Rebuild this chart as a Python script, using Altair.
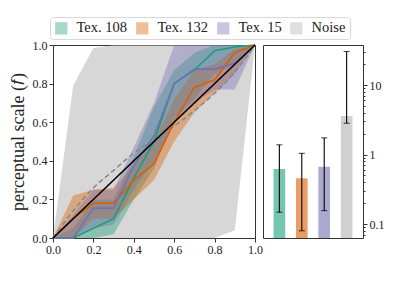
import altair as alt
import pandas as pd

# ---------------- data ----------------
xs = [0.0, 0.1, 0.2, 0.3, 0.4, 0.5, 0.6, 0.7, 0.8, 0.9, 1.0]

tex108_mean = [0.0, 0.0, 0.05, 0.10, 0.31, 0.50, 0.80, 0.87, 0.97, 0.99, 1.0]
tex108_lo = [0.0, 0.0, 0.0, 0.02, 0.20, 0.36, 0.62, 0.72, 0.85, 0.90, 1.0]
tex108_hi = [0.0, 0.05, 0.20, 0.20, 0.42, 0.68, 0.87, 0.96, 1.0, 1.0, 1.0]

tex132_mean = [0.0, 0.10, 0.18, 0.18, 0.30, 0.385, 0.60, 0.78, 0.82, 0.96, 1.0]
tex132_lo = [0.0, 0.0, 0.10, 0.10, 0.20, 0.30, 0.50, 0.65, 0.75, 0.85, 1.0]
tex132_hi = [0.0, 0.22, 0.25, 0.26, 0.38, 0.50, 0.72, 0.87, 0.90, 0.98, 1.0]

tex15_mean = [0.0, 0.0, 0.155, 0.155, 0.375, 0.53, 0.80, 0.875, 0.875, 0.905, 1.0]
tex15_lo = [0.0, 0.0, 0.05, 0.07, 0.25, 0.40, 0.60, 0.70, 0.77, 0.77, 1.0]
tex15_hi = [0.0, 0.12, 0.25, 0.25, 0.47, 0.70, 1.0, 1.0, 1.0, 1.0, 1.0]

noise_lo = [0.0, 0.0, 0.0, 0.0, 0.0, 0.0, 0.0, 0.0, 0.0, 0.04, 1.0]
noise_hi = [0.0, 0.79, 0.985, 1.0, 1.0, 1.0, 1.0, 1.0, 1.0, 1.0, 1.0]
noise_mean = [0.0, 0.14, 0.26, 0.35, 0.44, 0.51, 0.58, 0.66, 0.75, 0.86, 1.0]

identity = [0.0, 1.0]
identity_x = [0.0, 1.0]

series = ["Tex. 108", "Tex. 132", "Tex. 15", "Noise"]
colors = ["#1b9e77", "#d95f02", "#7570b3", "#b0b0b0"]

bar_value = [0.62, 0.455, 0.67, 3.6]
bar_err_lo = [0.148, 0.08, 0.156, 2.82]
bar_err_hi = [1.38, 1.04, 1.74, 30.4]
log_domain = [0.063, 37.7]

FONT = "Liberation Serif"

# ---------------- tables ----------------
band_rows = []
line_rows = []
for name, m, lo, hi in [
    ("Tex. 108", tex108_mean, tex108_lo, tex108_hi),
    ("Tex. 132", tex132_mean, tex132_lo, tex132_hi),
    ("Tex. 15", tex15_mean, tex15_lo, tex15_hi),
]:
    for i, x in enumerate(xs):
        band_rows.append({"x": x, "lo": lo[i], "hi": hi[i], "series": name})
        line_rows.append({"x": x, "y": m[i], "series": name})
bands = pd.DataFrame(band_rows)
lines = pd.DataFrame(line_rows)
noise = pd.DataFrame({"x": xs, "lo": noise_lo, "hi": noise_hi, "y": noise_mean,
                      "series": ["Noise"] * len(xs)})
diag = pd.DataFrame({"x": identity_x, "y": identity})
bars = pd.DataFrame({"series": series, "v": bar_value, "lo": bar_err_lo, "hi": bar_err_hi,
                     "base": [log_domain[0]] * len(series)})

color_scale = alt.Scale(domain=series, range=colors)
xsc = alt.Scale(domain=[0, 1], nice=False)
ysc = alt.Scale(domain=[0, 1], nice=False)
tick_vals = [0.0, 0.2, 0.4, 0.6, 0.8, 1.0]

xax = alt.Axis(values=tick_vals, format=".1f", title=None,
               labelOverlap=False, labelFlush=False)
yax = alt.Axis(values=tick_vals, format=".1f", title="perceptual scale (𝑓)",
               labelOverlap=False, labelFlush=False)


def X(f):
    return alt.X(f, type="quantitative", scale=xsc, axis=xax)


def Y(f):
    return alt.Y(f, type="quantitative", scale=ysc, axis=yax)


legend = alt.Legend(
    title=None, orient="none", direction="horizontal", columns=4,
    legendX=-3, legendY=-28,
    symbolType="square", symbolSize=150, symbolOpacity=0.4, symbolStrokeWidth=0,
    labelFont=FONT, labelFontSize=14.5, labelColor="#222", labelOffset=8,
    columnPadding=7, padding=4,
    strokeColor="#d8d8d8", fillColor="white", cornerRadius=3,
)

noise_band = alt.Chart(noise).mark_area(opacity=0.5).encode(
    x=X("x"), y=Y("lo"), y2="hi:Q",
    color=alt.Color("series:N", scale=color_scale, legend=legend),
)
tex_band = alt.Chart(bands).mark_area(opacity=0.4).encode(
    x=X("x"), y=Y("lo"), y2="hi:Q",
    color=alt.Color("series:N", scale=color_scale, legend=legend),
    detail="series:N",
)
dashed = alt.Chart(noise).mark_line(color="#8a8a8a", strokeDash=[5, 3], strokeWidth=1.6,
                                    interpolate="monotone").encode(
    x=X("x"), y=Y("y"), order="x:Q",
)
tex_lines = alt.Chart(lines).mark_line(strokeWidth=1.6).encode(
    x=X("x"), y=Y("y"),
    color=alt.Color("series:N", scale=color_scale, legend=legend),
)
diag_line = alt.Chart(diag).mark_line(color="black", strokeWidth=1.6).encode(
    x=X("x"), y=Y("y"),
)

left = alt.layer(noise_band, tex_band, dashed, tex_lines, diag_line).properties(
    width=202, height=193
)

# ---------------- right panel ----------------
major = [0.1, 1, 10]
minor = [0.07, 0.08, 0.09, 0.2, 0.3, 0.4, 0.5, 0.6, 0.7, 0.8, 0.9,
         2, 3, 4, 5, 6, 7, 8, 9, 20, 30]
is_major = "datum.value == 0.1 || datum.value == 1 || datum.value == 10"
log_scale = alt.Scale(type="log", domain=log_domain, nice=False)
xb = alt.X("series:N", sort=series,
           scale=alt.Scale(paddingInner=0.48, paddingOuter=0.47), axis=None)

bar = alt.Chart(bars).mark_bar(opacity=0.6).encode(
    x=xb,
    y=alt.Y("v:Q", scale=log_scale, axis=alt.Axis(
        orient="right", values=major + minor, title=None, domain=False,
        format="~g", labelExpr=f"({is_major}) ? datum.label : ''",
        labelOverlap=False, labelFlush=False,
        tickSize={"condition": {"test": is_major, "value": 4}, "value": 2},
        grid=False)),
    y2="base:Q",
    color=alt.Color("series:N", scale=color_scale, legend=None),
)
err = alt.Chart(bars).mark_rule(color="black", strokeWidth=1.1).encode(
    x=xb, y=alt.Y("lo:Q", scale=log_scale), y2="hi:Q",
)
cap_lo = alt.Chart(bars).mark_tick(color="black", size=6, thickness=1.1).encode(
    x=xb, y=alt.Y("lo:Q", scale=log_scale),
)
cap_hi = alt.Chart(bars).mark_tick(color="black", size=6, thickness=1.1).encode(
    x=xb, y=alt.Y("hi:Q", scale=log_scale),
)
right = alt.layer(bar, err, cap_lo, cap_hi).properties(width=100, height=193)

chart = alt.hconcat(left, right, spacing=8, bounds="flush").properties(
    padding={"left": 0, "top": 8, "right": 0, "bottom": 0}
).configure_view(
    stroke="#333", strokeWidth=1
).configure_axis(
    labelFont=FONT, labelFontSize=12, labelColor="#222",
    titleFont=FONT, titleFontSize=18, titleFontWeight="normal", titleColor="#222",
    tickColor="#333", tickSize=4, domain=False, grid=False, labelPadding=2,
    titlePadding=5, labelOverlap=False,
)

chart.save("out.html", embed_options={"renderer": "svg", "actions": False})
